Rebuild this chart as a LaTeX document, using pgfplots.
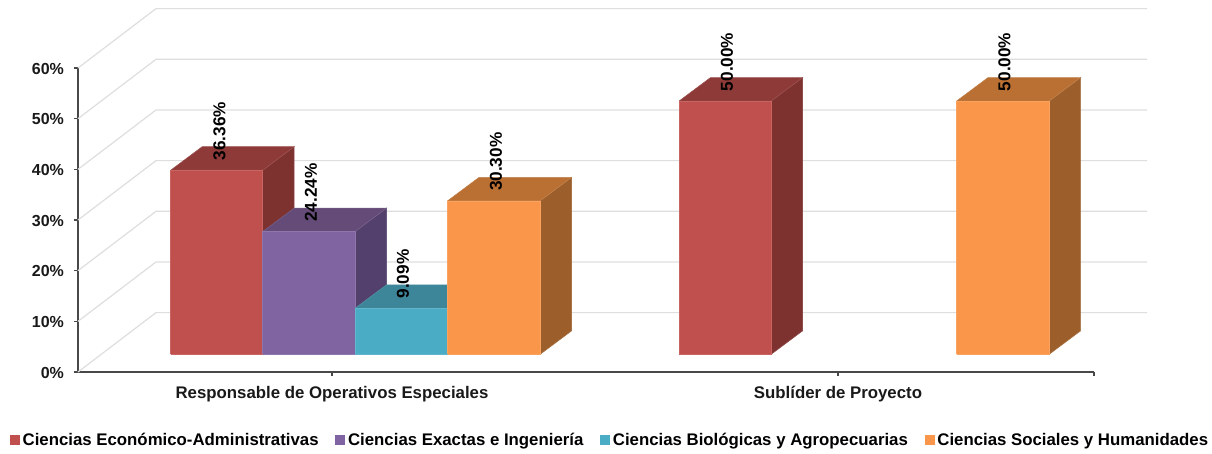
\documentclass[border=0pt]{standalone}
\usepackage{pgfplots}
\pgfplotsset{compat=1.18}
\usepackage{fontspec}
\setmainfont{Liberation Sans}
\definecolor{gridc}{HTML}{DEDEDE}
\definecolor{axisc}{HTML}{484848}
\definecolor{redF}{HTML}{C0504D}\definecolor{redT}{HTML}{8E3A38}\definecolor{redS}{HTML}{7D3230}
\definecolor{purF}{HTML}{8064A2}\definecolor{purT}{HTML}{644B78}\definecolor{purS}{HTML}{53406C}
\definecolor{cyaF}{HTML}{4BACC6}\definecolor{cyaT}{HTML}{3D8599}\definecolor{cyaS}{HTML}{33707F}
\definecolor{oraF}{HTML}{F9964A}\definecolor{oraT}{HTML}{BA7033}\definecolor{oraS}{HTML}{9C5F2B}
% bar: x left, x right, value, colours
\newcommand{\threeDbar}[6]{%
  \pgfmathsetmacro{\ytop}{3.47+#3}%
  \pgfmathsetmacro{\ytopb}{\ytop+4.64}%
  \pgfmathsetmacro{\ybotb}{3.47+4.64}%
  \pgfmathsetmacro{\xlb}{#1+31.5}%
  \pgfmathsetmacro{\xrb}{#2+31.5}%
  \addplot[forget plot,mark=none,fill=#6,draw=#6!88!white,line width=0.4pt] coordinates {(#2,3.47) (\xrb,\ybotb) (\xrb,\ytopb) (#2,\ytop) (#2,3.47)};
  \addplot[forget plot,mark=none,fill=#5,draw=#5!88!white,line width=0.4pt] coordinates {(#1,\ytop) (\xlb,\ytopb) (\xrb,\ytopb) (#2,\ytop) (#1,\ytop)};
  \addplot[forget plot,mark=none,fill=#4,draw=#4!88!white,line width=0.4pt] coordinates {(#1,3.47) (#2,3.47) (#2,\ytop) (#1,\ytop) (#1,3.47)};
}
\newcommand{\gridlevel}[1]{%
  \pgfmathsetmacro{\yb}{#1+11.72}%
  \addplot[forget plot,mark=none,gridc,line width=0.9pt] coordinates {(78,#1) (156,\yb) (1147,\yb)};
}
\begin{document}
\begin{tikzpicture}[x=1pt,y=1pt]
\path[use as bounding box] (-58.5,-60.75) rectangle (850.5,279);
\begin{axis}[
  at={(0pt,0pt)},anchor=south west,
  scale only axis,width=762pt,height=228pt,
  xmin=78,xmax=1094,ymin=0,ymax=60,
  clip=false,
  axis lines=left,
  axis line style={-,axisc,line width=1.3pt},
  tick style={axisc,line width=0.8pt},
  tick align=outside,
  major tick length=3pt,
  xtick={332,838},
  xticklabels={Responsable de Operativos Especiales,Subl\'{\i}der de Proyecto},
  extra x ticks={1094},
  extra x tick labels={},
  ytick={0,10,20,30,40,50,60},
  yticklabels={0\%,10\%,20\%,30\%,40\%,50\%,60\%},
  tick label style={font=\fontsize{12}{14}\selectfont\bfseries,text=black!90},
  x tick label style={font=\fontsize{12.6}{14}\selectfont\bfseries,yshift=-4pt},
  y tick label style={xshift=-4pt,yshift=-0.4pt},
  /pgf/number format/assume math mode=true,
  legend columns=4,
  legend cell align=left,
  legend style={at={(axis cs:10,-13.45)},anchor=west,draw=none,fill=none,inner sep=0pt,outer sep=0pt,
    font=\fontsize{12.6}{14}\selectfont\bfseries,
    /tikz/every even column/.append style={column sep=10.6pt}},
]
\gridlevel{0}\gridlevel{10}\gridlevel{20}\gridlevel{30}\gridlevel{40}\gridlevel{50}\gridlevel{60}
\threeDbar{170.7}{262.7}{36.36}{redF}{redT}{redS}
\threeDbar{262.7}{355}{24.24}{purF}{purT}{purS}
\threeDbar{355}{447.5}{9.09}{cyaF}{cyaT}{cyaS}
\threeDbar{447.5}{540}{30.30}{oraF}{oraT}{oraS}
\threeDbar{679}{771}{50.00}{redF}{redT}{redS}
\threeDbar{956.5}{1049}{50.00}{oraF}{oraT}{oraS}
\addplot[forget plot,draw=none,mark=none,point meta=explicit symbolic,nodes near coords,
  nodes near coords style={rotate=90,anchor=west,inner sep=0pt,outer sep=0pt,text=black,font=\fontsize{12.9}{14}\selectfont\bfseries}]
  coordinates {(219.5,41.80)[36.36\%] (311,29.68)[24.24\%] (403,14.53)[9.09\%] (496,35.74)[30.30\%] (727,55.44)[50.00\%] (1004.5,55.44)[50.00\%]};
\pgfplotsset{legend image code/.code={\fill[#1] (0pt,-3.6pt) rectangle (7.5pt,3.9pt);}}
\addlegendimage{fill=redF,draw=none}\addlegendentry{Ciencias Económico-Administrativas}
\addlegendimage{fill=purF,draw=none}\addlegendentry{Ciencias Exactas e Ingeniería}
\addlegendimage{fill=cyaF,draw=none}\addlegendentry{Ciencias Biológicas y Agropecuarias}
\addlegendimage{fill=oraF,draw=none}\addlegendentry{Ciencias Sociales y Humanidades}
\end{axis}
\end{tikzpicture}
\end{document}
